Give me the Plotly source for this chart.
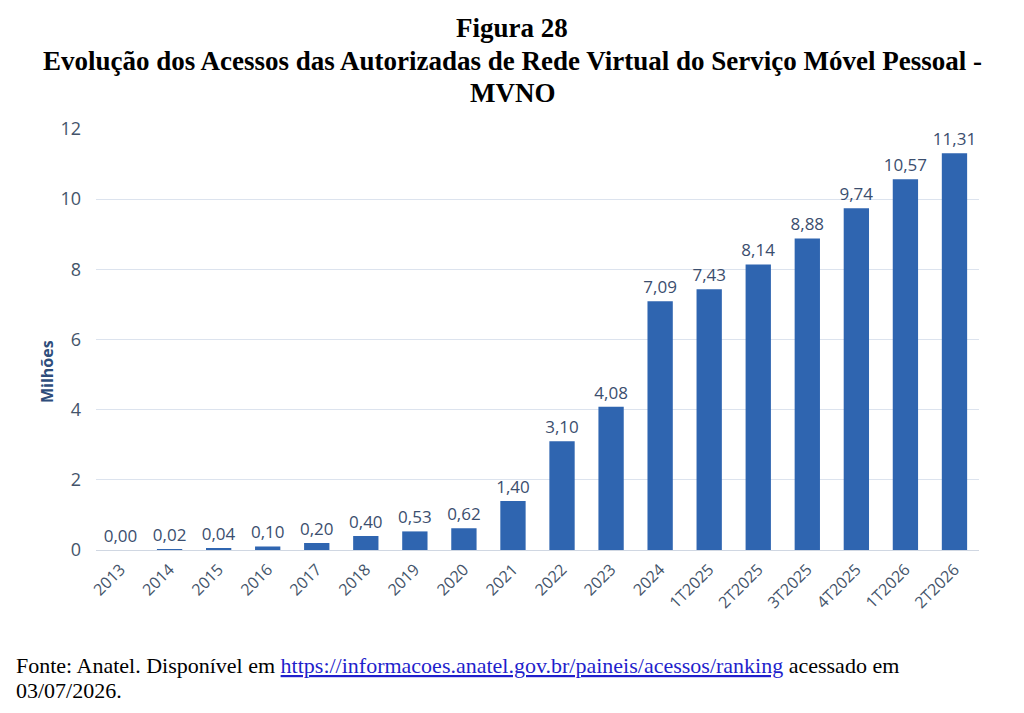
import plotly.graph_objects as go

categories = ["2013", "2014", "2015", "2016", "2017", "2018", "2019", "2020", "2021",
              "2022", "2023", "2024", "1T2025", "2T2025", "3T2025", "4T2025", "1T2026", "2T2026"]
values = [0.00, 0.02, 0.04, 0.10, 0.20, 0.40, 0.53, 0.62, 1.40,
          3.10, 4.08, 7.09, 7.43, 8.14, 8.88, 9.74, 10.57, 11.31]
y_ticks = [0, 2, 4, 6, 8, 10, 12]

labels = [f"{v:.2f}".replace(".", ",") for v in values]

L, R, T, B = 96, 45, 129, 163
W, H = 1024, 713
PW, PH = W - L - R, H - T - B


def px(x):
    return (x - L) / PW


def py(y):
    return (H - B - y) / PH


fig = go.Figure()
fig.add_trace(go.Bar(
    x=categories, y=values, text=labels, textposition="outside",
    constraintext="none",
    textfont=dict(family="Open Sans, Calibri, sans-serif", size=17, color="#3B4E6E"),
    marker=dict(color="#2F65B0", line=dict(width=0)),
    cliponaxis=False,
))

fig.update_layout(
    width=W, height=H,
    margin=dict(l=L, r=R, t=T, b=B),
    paper_bgcolor="white", plot_bgcolor="white",
    bargap=0.484,
    showlegend=False,
    font=dict(family="Open Sans, sans-serif", color="#44546A"),
)
fig.update_yaxes(
    range=[0, 12], tickvals=y_ticks, ticktext=[str(t) for t in y_ticks],
    showgrid=True, gridcolor="#DCE3EE", gridwidth=1,
    zeroline=True, zerolinecolor="#D0D7E2", zerolinewidth=1,
    tickfont=dict(size=18, color="#44546A"), ticks="", ticklen=0,
    ticklabelstandoff=14,
    showline=False,
)
fig.update_xaxes(
    tickangle=-45, tickfont=dict(size=16, color="#44546A"),
    ticklabelstandoff=6,
    showgrid=False, showline=False, ticks="",
)

serif = "Liberation Serif, Times New Roman, serif"
title_lines = [("<b>Figura 28</b>", 28),
               ("<b>Evolução dos Acessos das Autorizadas de Rede Virtual do Serviço Móvel Pessoal -</b>", 61),
               ("<b>MVNO</b>", 93)]
for txt, yc in title_lines:
    fig.add_annotation(text=txt, xref="paper", yref="paper",
                       x=px(512), xanchor="center", y=py(yc), yanchor="middle",
                       showarrow=False,
                       font=dict(family=serif, size=27, color="black"))

fig.add_annotation(text="<b>Milhões</b>", xref="paper", yref="paper",
                   x=px(47), xanchor="center", y=py(372), yanchor="middle",
                   textangle=-90, showarrow=False,
                   font=dict(family="Open Sans, sans-serif", size=16, color="#2E4D7B"))

footer_lines = [("Fonte: Anatel. Disponível em "
                 "<span style='color:#1F1FCC;text-decoration:underline'>https://informacoes.anatel.gov.br/paineis/acessos/ranking</span>"
                 " acessado em", 665),
                ("03/07/2026.", 690)]
for txt, yc in footer_lines:
    fig.add_annotation(
        text=txt, xref="paper", yref="paper", x=px(14), xanchor="left",
        y=py(yc), yanchor="middle", showarrow=False, align="left",
        font=dict(family=serif, size=22, color="black"),
    )

fig.write_html("out.html")
